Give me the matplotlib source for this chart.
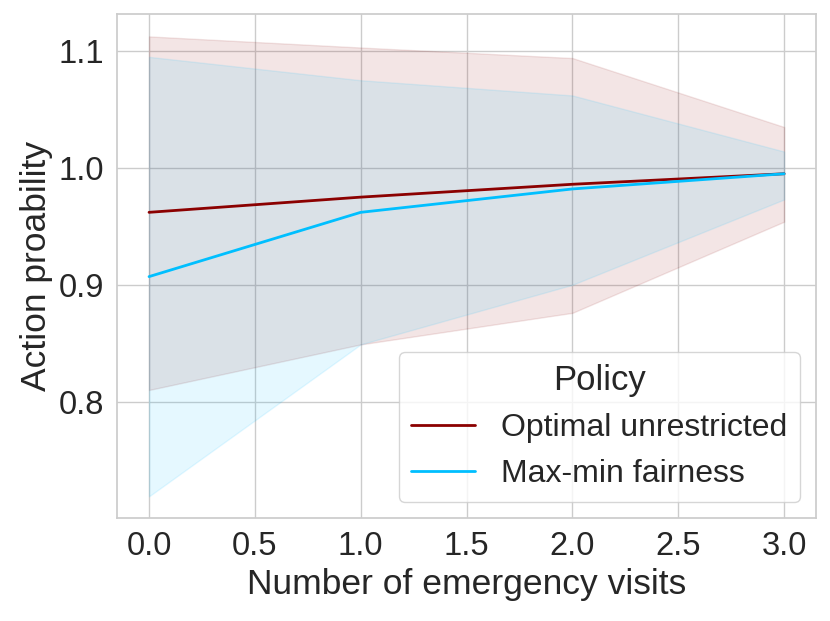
import matplotlib
matplotlib.use("Agg")
import matplotlib.pyplot as plt
import seaborn as sns
import numpy as np

visits = [0, 1, 2, 3]
opt_mean = [0.962, 0.975, 0.986, 0.995]
opt_low = [0.810, 0.849, 0.876, 0.954]
opt_high = [1.1125, 1.103, 1.094, 1.035]
mm_mean = [0.907, 0.962, 0.982, 0.995]
mm_low = [0.719, 0.849, 0.900, 0.973]
mm_high = [1.095, 1.075, 1.062, 1.014]

sns.set_theme(style="whitegrid", font_scale=2)
plt.rcParams['font.family'] = ['Liberation Sans', 'DejaVu Sans']

fig, ax = plt.subplots(figsize=(8.3, 6.21), dpi=100)
fig.subplots_adjust(left=0.1413, right=0.983, top=0.9775, bottom=0.1659)

ax.plot(visits, opt_mean, color='darkred', lw=2, label='Optimal unrestricted')
ax.fill_between(visits, opt_low, opt_high, color='darkred', alpha=0.1)
ax.plot(visits, mm_mean, color='deepskyblue', lw=2, label='Max-min fairness')
ax.fill_between(visits, mm_low, mm_high, color='deepskyblue', alpha=0.1)

ax.set_xticks([0, 0.5, 1, 1.5, 2, 2.5, 3])
ax.set_yticks([0.8, 0.9, 1.0, 1.1])
ax.set_ylim(0.7005, 1.1317)
ax.set_xlim(-0.15, 3.15)
ax.tick_params(axis='both', labelsize=23.5)
ax.set_xlabel('Number of emergency visits', fontsize=25.5)
ax.set_ylabel('Action proability', fontsize=25.5)
leg = ax.legend(title='Policy', loc='lower right', fontsize=23, title_fontsize=25)

fig.savefig('out.png', dpi=100)
